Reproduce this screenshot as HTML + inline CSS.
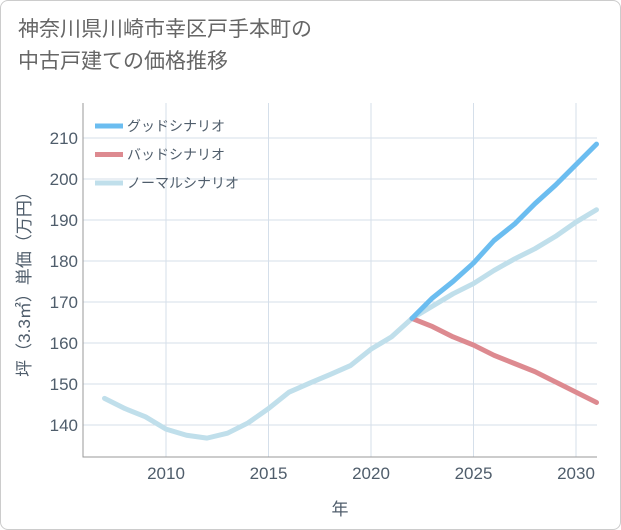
<!DOCTYPE html>
<html><head><meta charset="utf-8"><style>
body{margin:0;background:#fff;font-family:"Liberation Sans","Noto Sans CJK JP",sans-serif;}
.card{position:absolute;left:0;top:0;width:619px;height:528px;border:1px solid #ccc;border-radius:8px;background:#fff;}
.title{position:absolute;left:18px;top:14px;font-size:21px;line-height:32px;color:#666;}
</style></head><body>
<div class="card"></div>
<div class="title">神奈川県川崎市幸区戸手本町の<br>中古戸建ての価格推移</div>
<svg id="chart" width="621" height="530" style="position:absolute;left:0;top:0"></svg>
<script>
const years=[2007,2008,2009,2010,2011,2012,2013,2014,2015,2016,2017,2018,2019,2020,2021,2022,2023,2024,2025,2026,2027,2028,2029,2030,2031];
const normal=[146.5,144,142,139,137.5,136.8,138,140.5,144,148,150.2,152.3,154.5,158.5,161.5,166,169,172,174.5,177.7,180.5,183,186,189.5,192.5];
const futureYears=[2022,2023,2024,2025,2026,2027,2028,2029,2030,2031];
const good=[166,171,175,179.5,185,189,194,198.5,203.5,208.5];
const bad=[166,164,161.5,159.5,157,155,153,150.5,148,145.5];
const yTicks=[140,150,160,170,180,190,200,210];
const xTicks=[2010,2015,2020,2025,2030];
const L=83,R=597,T=103,B=457;
const x=v=>166+(v-2010)*20.5;
const y=v=>425-(v-140)*4.1;
const svg=document.getElementById('chart');
const NS='http://www.w3.org/2000/svg';
const TC='#4f5d6b';
function mk(t,a){const e=document.createElementNS(NS,t);for(const k in a)e.setAttribute(k,a[k]);svg.appendChild(e);return e;}
yTicks.forEach(v=>{
 const g=mk('line',{x1:L,x2:R,y1:y(v),y2:y(v),stroke:'#d5dfea','stroke-width':1});
 
 
 const t=mk('text',{x:L-5,y:y(v)+6,'text-anchor':'end','font-size':17,fill:TC});
 t.textContent=v;
 
 
});
xTicks.forEach(v=>{
 const g=mk('line',{x1:x(v),x2:x(v),y1:T,y2:B,stroke:'#d5dfea','stroke-width':1});
 
 
 const t=mk('text',{x:x(v),y:B+22,'text-anchor':'middle','font-size':17,fill:TC});
 t.textContent=v;
 
 
});
const ax=mk('path',{d:`M${L},${T}V${B}H${R}`,fill:'none',stroke:'#999','stroke-width':1});


function line(xs,ys,color,name){
 const p=mk('polyline',{points:xs.map((v,i)=>x(v)+','+y(ys[i])).join(' '),fill:'none',stroke:color,'stroke-width':5,'stroke-linejoin':'round','stroke-linecap':'round'});
 
 
}
line(years,normal,'#c0dfeb','normal-scenario-line');
line(futureYears,bad,'#dd8a90','bad-scenario-line');
line(futureYears,good,'#6bbdf0','good-scenario-line');
const leg=[['グッドシナリオ','#6bbdf0'],['バッドシナリオ','#dd8a90'],['ノーマルシナリオ','#c0dfeb']];
leg.forEach((l,i)=>{
 const yy=126+i*28.5;
 const s=mk('line',{x1:95,x2:123,y1:yy,y2:yy,stroke:l[1],'stroke-width':5});
 
 
 const t=mk('text',{x:127,y:yy+5,'font-size':14,fill:TC});
 t.textContent=l[0];
 
 
});
const xt=mk('text',{x:340,y:515,'text-anchor':'middle','font-size':17,fill:TC});
xt.textContent='年';


const yt=mk('text',{x:0,y:0,'text-anchor':'middle','font-size':17,fill:TC,transform:'translate(30,280) rotate(-90)'});
yt.textContent='坪（3.3㎡）単価（万円）';


</script>
</body></html>
